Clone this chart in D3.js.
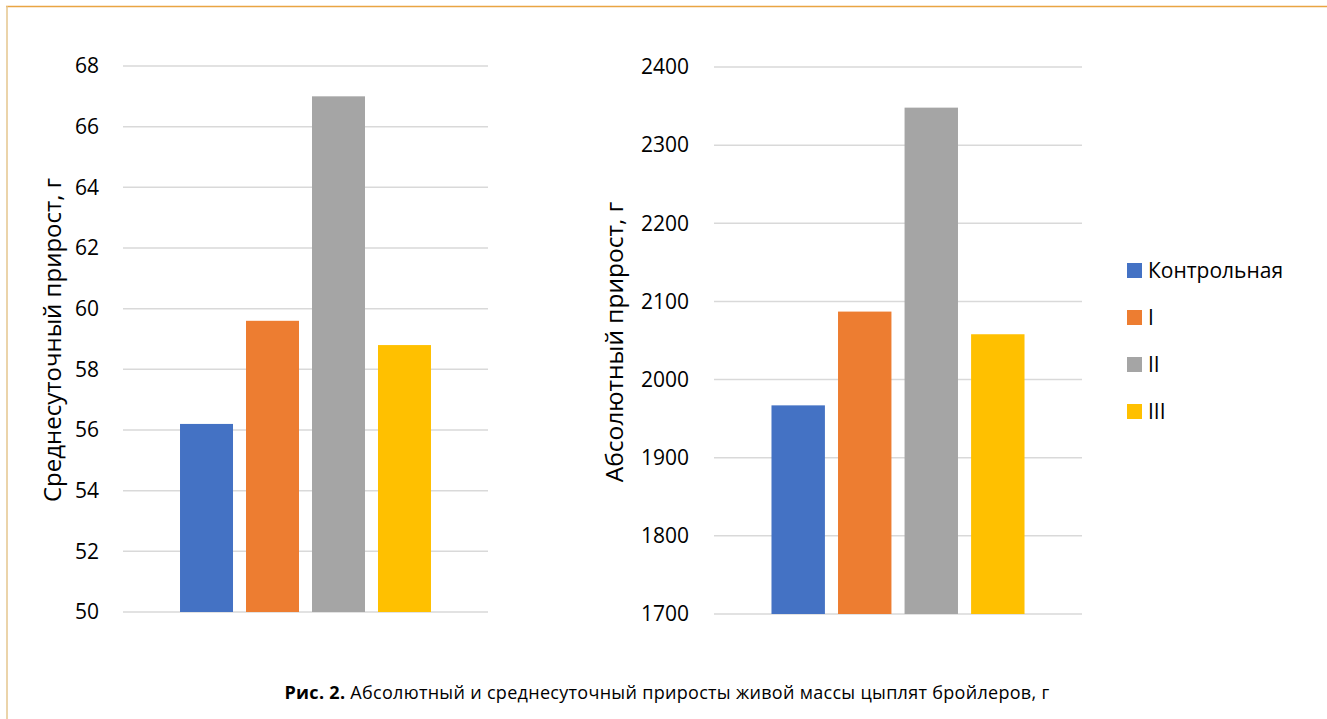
<!DOCTYPE html>
<html>
<head>
<meta charset="utf-8">
<script src="https://cdn.jsdelivr.net/npm/d3@7"></script>
<style>
  html, body { margin: 0; padding: 0; background: #fff; }
  svg { display: block; }
</style>
</head>
<body>
<svg id="chart" width="1327" height="719"></svg>
<script>
// Groups of broilers
const groups = ["Контрольная", "I", "II", "III"];
const groupColors = ["#4472C4", "#ED7D31", "#A5A5A5", "#FFC000"];

// Average daily gain, g
const dailyGain = [56.2, 59.6, 67.0, 58.8];
const dailyTicks = [50, 52, 54, 56, 58, 60, 62, 64, 66, 68];

// Absolute gain, g
const absoluteGain = [1967, 2087, 2348, 2058];
const absoluteTicks = [1700, 1800, 1900, 2000, 2100, 2200, 2300, 2400];

const leftTitle = "Среднесуточный прирост, г";
const rightTitle = "Абсолютный прирост, г";
const captionBold = "Рис. 2.";
const captionText = " Абсолютный и среднесуточный приросты живой массы цыплят бройлеров, г";

const svg = d3.select("#chart");
const FONT = "'Open Sans', 'Noto Sans', sans-serif";

// Frame lines (top and left)
svg.append("line").attr("x1", 6).attr("x2", 1327).attr("y1", 6.5).attr("y2", 6.5)
  .attr("stroke", "#E9A543").attr("stroke-width", 1.5);
svg.append("line").attr("x1", 7).attr("x2", 7).attr("y1", 6).attr("y2", 719)
  .attr("stroke", "#E4C68E").attr("stroke-width", 1.5);

function panel(opts) {
  const g = svg.append("g");
  const y = d3.scaleLinear()
    .domain([opts.ticks[0], opts.ticks[opts.ticks.length - 1]])
    .range([opts.bottom, opts.top]);
  const x = d3.scaleBand()
    .domain(groups)
    .range([opts.left, opts.right])
    .paddingInner(0.197)
    .paddingOuter(0.864);

  // gridlines
  g.append("g")
    .selectAll("line")
    .data(opts.ticks)
    .join("line")
    .attr("x1", opts.left).attr("x2", opts.right)
    .attr("y1", d => y(d)).attr("y2", d => y(d))
    .attr("stroke", "#D9D9D9").attr("stroke-width", 1.5);

  // y axis labels
  const axis = d3.axisLeft(y).tickValues(opts.ticks).tickSize(0).tickPadding(0).tickFormat(d3.format("d"));
  const ag = g.append("g")
    .attr("transform", `translate(${opts.labelRight},0)`)
    .call(axis);
  ag.select(".domain").remove();
  ag.selectAll("text")
    .attr("font-family", FONT)
    .attr("font-size", 21)
    .attr("fill", "#000");

  // bars
  g.append("g")
    .selectAll("rect")
    .data(opts.values)
    .join("rect")
    .attr("x", (d, i) => x(groups[i]))
    .attr("width", x.bandwidth())
    .attr("y", d => y(d))
    .attr("height", d => y(opts.ticks[0]) - y(d))
    .attr("fill", (d, i) => groupColors[i]);

  // axis title
  g.append("text")
    .attr("transform", `translate(${opts.titleX},${opts.titleY}) rotate(-90)`)
    .attr("text-anchor", "middle")
    .attr("dominant-baseline", "central")
    .attr("font-family", FONT)
    .attr("font-size", opts.titleSize)
    .attr("fill", "#000")
    .text(opts.title);
}

panel({
  values: dailyGain, ticks: dailyTicks, title: leftTitle, titleSize: 24,
  left: 123, right: 488, top: 66, bottom: 612,
  labelRight: 99, titleX: 51, titleY: 340
});

panel({
  values: absoluteGain, ticks: absoluteTicks, title: rightTitle, titleSize: 24.5,
  left: 714, right: 1082, top: 67, bottom: 614,
  labelRight: 689, titleX: 613, titleY: 342
});

// legend
const legend = svg.append("g");
const legendRows = [270, 317, 364, 411];
groups.forEach((name, i) => {
  legend.append("rect")
    .attr("x", 1127).attr("y", legendRows[i] - 7)
    .attr("width", 15).attr("height", 15)
    .attr("fill", groupColors[i]);
  legend.append("text")
    .attr("x", 1148).attr("y", legendRows[i])
    .attr("dominant-baseline", "central")
    .attr("font-family", FONT)
    .attr("font-size", 21)
    .attr("fill", "#000")
    .text(name);
});

// caption
const cap = svg.append("text")
  .attr("x", 667).attr("y", 699)
  .attr("text-anchor", "middle")
  .attr("font-family", "'Open Sans', 'Noto Sans', sans-serif")
  .attr("font-size", 18)
  .attr("letter-spacing", 0.3)
  .attr("fill", "#000");
cap.append("tspan").attr("font-weight", "bold").text(captionBold);
cap.append("tspan").text(captionText);
</script>
</body>
</html>
